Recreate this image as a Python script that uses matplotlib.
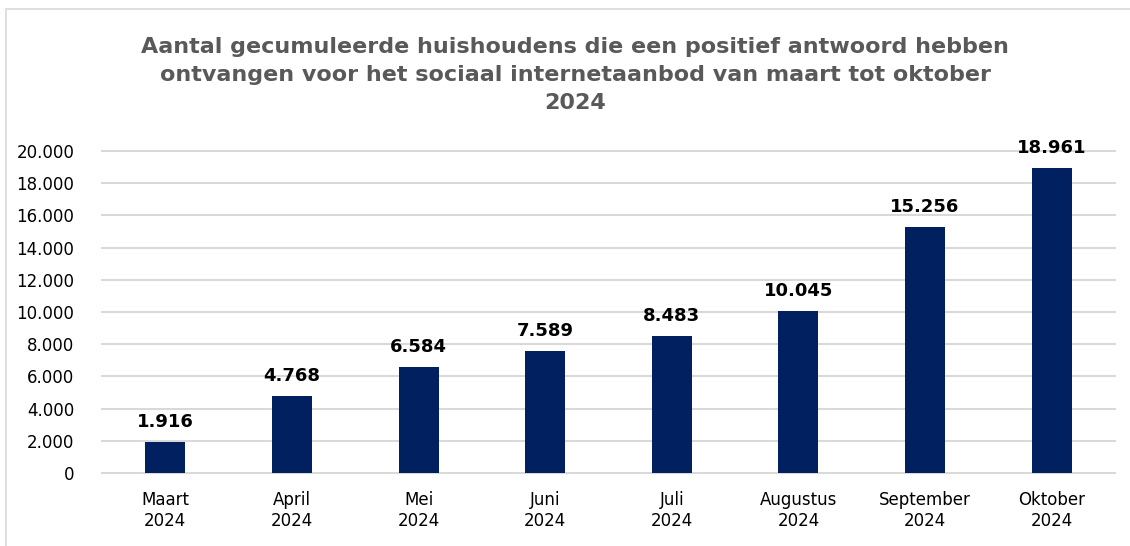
import matplotlib.pyplot as plt
import numpy as np
from matplotlib.patches import Rectangle
from matplotlib.ticker import FuncFormatter

months = ["Maart", "April", "Mei", "Juni", "Juli", "Augustus", "September", "Oktober"]
year = "2024"
households = [1916, 4768, 6584, 7589, 8483, 10045, 15256, 18961]

title = ("Aantal gecumuleerde huishoudens die een positief antwoord hebben\n"
         "ontvangen voor het sociaal internetaanbod van maart tot oktober\n"
         "2024")

BAR_COLOR = "#002060"
GRID_COLOR = "#d9d9d9"
TITLE_COLOR = "#595959"

plt.rcParams["font.family"] = ["DejaVu Sans"]


def dutch_thousands(v, pos=None):
    return f"{int(round(v)):,}".replace(",", ".")


fig = plt.figure(figsize=(11.3, 5.46), dpi=100)
fig.patches.append(Rectangle((6 / 1130, -0.1), 1.2, (546 - 9) / 546 + 0.1,
                             transform=fig.transFigure, fill=False,
                             edgecolor=GRID_COLOR, linewidth=1.2))

ax = fig.add_axes([102 / 1130, 1 - 473 / 546, 1013 / 1130, (473 - 151) / 546])
x = np.arange(len(months))
bars = ax.bar(x, households, width=0.315, color=BAR_COLOR, zorder=3)

ax.set_xlim(-0.5, len(months) - 0.5)
ax.set_ylim(0, 20000)
ax.set_yticks(np.arange(0, 20001, 2000))
ax.yaxis.set_major_formatter(FuncFormatter(dutch_thousands))
ax.set_xticks(x)
ax.set_xticklabels([f"{m}\n{year}" for m in months])
ax.tick_params(axis="both", length=0, labelsize=12, colors="black")
ax.tick_params(axis="x", pad=13)
ax.tick_params(axis="y", pad=20)

ax.grid(axis="y", color=GRID_COLOR, linewidth=1.5, zorder=0)
for line in ax.get_ygridlines():
    line.set_clip_on(False)
for s in ax.spines.values():
    s.set_visible(False)

for rect, v in zip(bars, households):
    ax.annotate(dutch_thousands(v), (rect.get_x() + rect.get_width() / 2, v),
                xytext=(0, 8), textcoords="offset points", ha="center",
                va="bottom", fontsize=13, fontweight="bold", color="black")

fig.text(575 / 1130, 1 - 75 / 546, title, ha="center", va="center",
         fontsize=16, fontweight="bold", color=TITLE_COLOR, linespacing=1.5)

fig.savefig("out.png", dpi=100)
